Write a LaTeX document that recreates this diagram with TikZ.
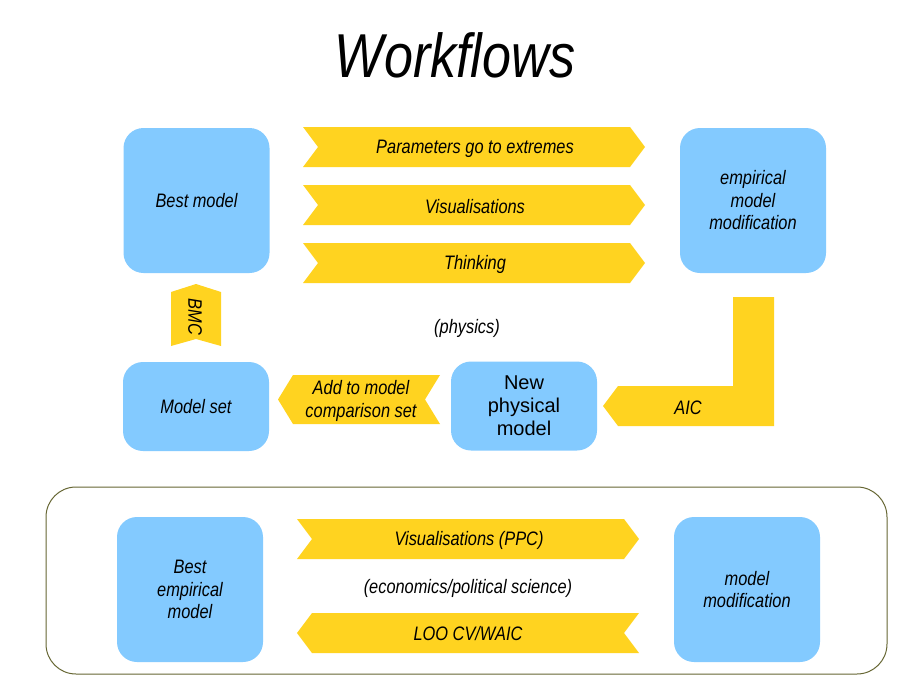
\documentclass[tikz,border=0pt]{standalone}
\usepackage{fontspec}
\setmainfont{Liberation Sans}
\newfontfamily\narrowfont{Liberation Sans}[FakeStretch=0.84]
\definecolor{boxblue}{HTML}{83CAFF}
\definecolor{arrowyellow}{HTML}{FFD320}
\definecolor{frameolive}{HTML}{666633}

\begin{document}
\begin{tikzpicture}[x=1pt,y=-1pt,
  labelfont/.style={font=\narrowfont\itshape\fontsize{19.5}{22.5}\selectfont},
  box/.style={fill=boxblue, rounded corners=20pt, inner sep=0pt,
    minimum width=146pt, align=center, labelfont},
  tallbox/.style={box, minimum height=145pt},
  shortbox/.style={box, minimum height=89pt},
  band/.style={fill=arrowyellow},
  bandtext/.style={labelfont, align=center, inner sep=0pt},
  note/.style={labelfont, inner sep=0pt}]
\useasboundingbox (0,0) rectangle (900,675);

% title
\node[font=\narrowfont\itshape\fontsize{62}{62}\selectfont, inner sep=0pt] (title) at (455,55) {Workflows};

% physics workflow: boxes
\node[tallbox] (best) at (196.5,200.5) {Best model};
\node[tallbox] (empmod) at (753,200.5) {empirical\\model\\modification};
\node[shortbox] (mset) at (196,406.5) {Model set};
\node[shortbox, font=\fontsize{20}{23}\selectfont] (newphys) at (524,406) {New\\physical\\model};

% three right-pointing bands between the top boxes
\foreach \yt/\txt/\nm in {127/Parameters go to extremes/bandA, 185/Visualisations/bandB, 243/Thinking/bandC}{
  \fill[band] (303,\yt) -- (630,\yt) -- (645,\yt+20) -- (630,\yt+40) -- (303,\yt+40) -- (318,\yt+20) -- cycle;
  \node[bandtext] (\nm) at (475,\yt+21.5) {\txt};
}

% BMC: upward band from model set to best model
\fill[band] (171,292) -- (196,284) -- (221,292) -- (221,346) -- (196,339) -- (171,346) -- cycle;
\node[bandtext, rotate=-90] (bmc) at (195,317) {BMC};

% AIC: L-shaped band into the new physical model
\fill[band] (733,297) -- (774,297) -- (774,426) -- (618,426) -- (603,406) -- (618,386) -- (733,386) -- cycle;
\node[bandtext] (aic) at (688,408) {AIC};

% add to comparison set: left-pointing band
\fill[band] (278,399.5) -- (293,375) -- (440,375) -- (425,399.5) -- (440,424) -- (293,424) -- cycle;
\node[bandtext] (addset) at (361,401) {Add to model\\comparison set};

\node[note] (physics) at (467,328) {(physics)};

% empirical workflow frame
\draw[frameolive, line width=1pt, rounded corners=30pt] (46,487) rectangle (887,674);

\node[tallbox] (bestemp) at (190,589.5) {Best\\empirical\\model};
\node[tallbox] (modmod) at (747,589.5) {model\\modification};

\fill[band] (297,519) -- (624,519) -- (639,539) -- (624,559) -- (297,559) -- (312,539) -- cycle;
\node[bandtext] (ppc) at (469,540.5) {Visualisations (PPC)};

\fill[band] (297,633) -- (312,613) -- (639,613) -- (624,633) -- (639,653) -- (312,653) -- cycle;
\node[bandtext] (loo) at (468,634) {LOO CV/WAIC};

\node[note] (econ) at (468,588.5) {(economics/political science)};
\end{tikzpicture}
\end{document}
